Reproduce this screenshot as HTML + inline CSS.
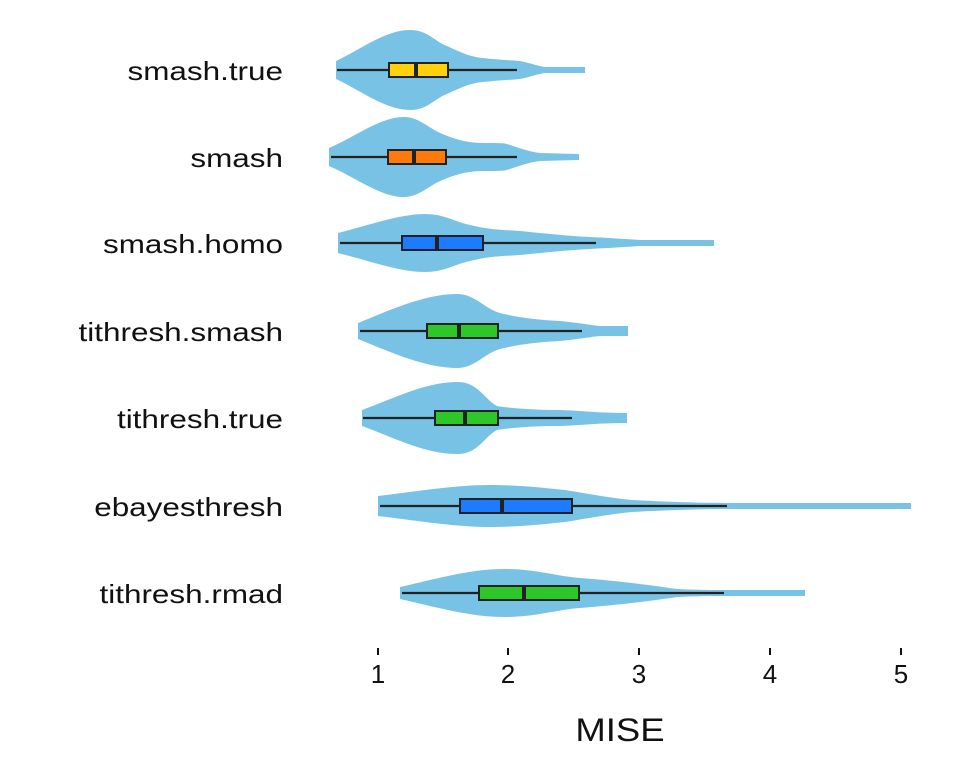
<!DOCTYPE html>
<html><head><meta charset="utf-8"><style>
body{margin:0;background:#fff;}
svg{display:block;font-family:"Liberation Sans",sans-serif;}
</style></head><body>
<svg width="960" height="768" viewBox="0 0 960 768">
<g fill="#78c3e5" stroke="none">
<path d="M336,61 C360,50 385,30 410,30 C428,30 435,42 447,46 C460,52 470,57 483,58 C500,60 510,60 520,61 C530,63 538,66 545,67 L585,67 L585,73 L545,73 C538,74 530,77 520,79 C510,80 500,80 483,82 C470,83 460,88 447,94 C435,98 428,110 410,110 C385,110 360,90 336,79 Z"/>
<path d="M329,148 C355,137 380,117 404,117 C420,117 430,130 445,135 C460,141 470,143 485,143 C500,143 505,143 510,145 C525,150 532,152 540,153 L579,154 L579,160 L540,161 C532,162 525,164 510,169 C505,171 500,171 485,171 C470,171 460,173 445,179 C430,184 420,197 404,197 C380,197 355,177 329,166 Z"/>
<path d="M338,233 C370,225 400,214 425,214 C445,214 455,222 470,225 C490,230 505,230 520,231 C550,234 570,236 590,237 C610,238 625,239 640,240 L714,240 L714,246 L640,246 C625,247 610,248 590,249 C570,250 550,252 520,255 C505,256 490,256 470,261 C455,264 445,272 425,272 C400,272 370,261 338,253 Z"/>
<path d="M358,323 C390,310 425,294 457,294 C475,294 485,309 500,313 C520,318 540,320 560,321 C580,323 590,325 600,326 L628,326 L628,336 L600,336 C590,337 580,339 560,341 C540,342 520,344 500,349 C485,353 475,368 457,368 C425,368 390,352 358,339 Z"/>
<path d="M362,410 C395,398 425,382 458,382 C478,382 485,400 497,406 C515,409 540,410 560,410 C585,411 600,413 627,413 L627,423 C600,423 585,425 560,426 C540,426 515,427 497,430 C485,436 478,454 458,454 C425,454 395,438 362,426 Z"/>
<path d="M378,496 C420,491 455,485 490,485 C520,485 545,488 565,490 C590,494 610,498 632,500 C670,502 700,503 734,503 L911,503 L911,509 L734,509 C700,509 670,510 632,512 C610,514 590,518 565,522 C545,524 520,527 490,527 C455,527 420,521 378,516 Z"/>
<path d="M400,587 C440,578 470,569 505,569 C535,569 555,576 580,578 C620,581 650,585 677,589 C700,590 712,590 722,590 L805,590 L805,596 L722,596 C712,596 700,596 677,597 C650,601 620,605 580,608 C555,610 535,617 505,617 C470,617 440,608 400,599 Z"/>
</g>
<g stroke="#222" stroke-width="2.2">
<line x1="337" y1="70" x2="517" y2="70"/>
<line x1="331" y1="157" x2="517" y2="157"/>
<line x1="340" y1="243" x2="596" y2="243"/>
<line x1="360" y1="331" x2="582" y2="331"/>
<line x1="363" y1="418" x2="572" y2="418"/>
<line x1="380" y1="506" x2="727" y2="506"/>
<line x1="402" y1="593" x2="724" y2="593"/>
</g>
<g stroke="#222" stroke-width="2">
<rect x="389" y="63" width="59" height="14" fill="#ffd10a"/>
<rect x="388" y="150" width="58" height="14" fill="#ff7a0a"/>
<rect x="402" y="236" width="81" height="14" fill="#1e7bff"/>
<rect x="427" y="324" width="71" height="14" fill="#2ec72a"/>
<rect x="435" y="411" width="63" height="14" fill="#2ec72a"/>
<rect x="460" y="499" width="112" height="14" fill="#1e7bff"/>
<rect x="479" y="586" width="100" height="14" fill="#2ec72a"/>
</g>
<g stroke="#222" stroke-width="4">
<line x1="416" y1="63" x2="416" y2="77"/>
<line x1="414" y1="150" x2="414" y2="164"/>
<line x1="437" y1="236" x2="437" y2="250"/>
<line x1="459" y1="324" x2="459" y2="338"/>
<line x1="465" y1="411" x2="465" y2="425"/>
<line x1="502" y1="499" x2="502" y2="513"/>
<line x1="524" y1="586" x2="524" y2="600"/>
</g>
<g font-size="26" fill="#111" text-anchor="end" transform="translate(283,0) scale(1.21,1)">
<text x="0" y="80">smash.true</text>
<text x="0" y="167">smash</text>
<text x="0" y="253">smash.homo</text>
<text x="0" y="341">tithresh.smash</text>
<text x="0" y="428">tithresh.true</text>
<text x="0" y="516">ebayesthresh</text>
<text x="0" y="603">tithresh.rmad</text>
</g>
<g stroke="#111" stroke-width="2">
<line x1="378" y1="648" x2="378" y2="655"/>
<line x1="508" y1="648" x2="508" y2="655"/>
<line x1="639" y1="648" x2="639" y2="655"/>
<line x1="770" y1="648" x2="770" y2="655"/>
<line x1="901" y1="648" x2="901" y2="655"/>
</g>
<g font-size="26" fill="#111" text-anchor="middle">
<text x="378" y="683">1</text>
<text x="508" y="683">2</text>
<text x="639" y="683">3</text>
<text x="770" y="683">4</text>
<text x="901" y="683">5</text>
</g>
<text x="0" y="741" font-size="32" fill="#111" text-anchor="middle" transform="translate(620,0) scale(1.14,1)">MISE</text>
</svg>
</body></html>
